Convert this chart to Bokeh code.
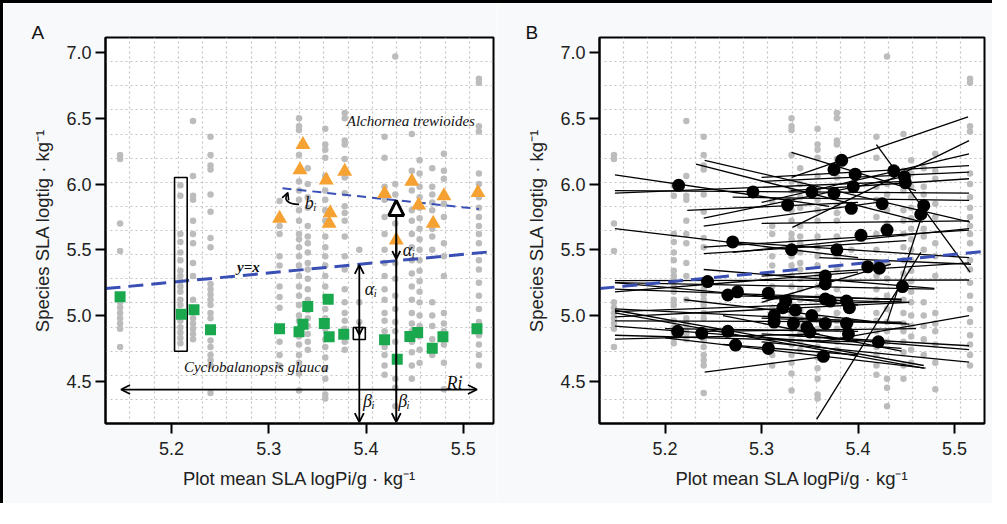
from bokeh.plotting import figure
from bokeh.layouts import row
from bokeh.models import (Range1d, FixedTicker, PrintfTickFormatter, Arrow, OpenHead,
                          NormalHead)
from bokeh.core.properties import value
from bokeh.embed import file_html
from bokeh.resources import INLINE

# ---------------- data ----------------
gray_cols_x = [5.147, 5.209, 5.222, 5.240, 5.311, 5.331, 5.340, 5.358, 5.378,
               5.393, 5.419, 5.430, 5.447, 5.455, 5.468, 5.480, 5.516]
gray_cols_y = [
    [6.22, 6.19, 5.70, 5.49, 5.10, 5.06, 5.02, 4.98, 4.94, 4.90, 4.76],
    [5.99, 5.91, 5.62, 5.56, 5.48, 5.42, 5.34, 5.30, 5.26, 5.22, 5.18, 5.12, 5.08, 4.96, 4.91, 4.87, 4.83, 4.79],
    [6.48, 6.06, 5.91, 5.88, 5.72, 5.62, 5.55, 5.40, 5.30, 5.12, 4.98, 4.94, 4.90, 4.86, 4.82],
    [6.36, 6.22, 6.14, 6.11, 5.92, 5.79, 5.59, 5.52, 5.24, 5.20, 5.16, 5.12, 5.08, 5.02, 4.98, 4.81, 4.76, 4.70, 4.66, 4.62, 4.41],
    [5.87, 5.68, 5.62, 5.45, 5.38, 5.22, 5.14, 5.06, 4.80, 4.70, 4.62],
    [6.50, 6.44, 6.41, 6.22, 6.02, 5.95, 5.88, 5.80, 5.72, 5.62, 5.58, 5.52, 5.45, 5.38, 5.30, 5.22, 5.15, 5.08, 5.00, 4.96, 4.90, 4.84, 4.78, 4.70, 4.64, 4.56, 4.43],
    [6.12, 6.00, 5.90, 5.82, 5.68, 5.60, 5.55, 5.48, 5.40, 5.35, 5.28, 5.20, 5.12, 5.04, 4.98, 4.92, 4.86, 4.80, 4.74],
    [6.42, 6.30, 6.26, 6.20, 6.06, 5.95, 5.88, 5.80, 5.72, 5.60, 5.52, 5.45, 5.38, 5.30, 5.22, 5.14, 5.05, 4.98, 4.90, 4.82, 4.76, 4.68, 4.60, 4.52, 4.40, 4.37],
    [6.54, 6.50, 6.33, 6.30, 6.19, 6.05, 5.93, 5.83, 5.78, 5.72, 5.60, 5.45, 5.35, 5.20, 5.10, 5.02, 4.96, 4.90, 4.80, 4.74],
    [5.50, 5.10, 4.95],
    [6.36, 6.20, 5.98, 5.88, 5.75, 5.62, 5.50, 5.40, 5.30, 5.20, 5.12, 5.02, 4.96, 4.88, 4.76, 4.70, 4.62, 4.55],
    [6.97, 6.00, 5.92, 5.80, 5.70, 5.40, 5.28, 5.15, 5.05, 4.95, 4.88, 4.80, 4.52, 4.45, 4.31],
    [6.38, 6.10, 5.95, 5.80, 5.72, 5.62, 5.52, 5.42, 5.32, 5.22, 5.12, 5.02, 4.94, 4.88, 4.80, 4.72, 4.62, 4.52],
    [6.18, 6.08, 5.98, 5.90, 5.82, 5.74, 5.66, 5.58, 5.50, 5.42, 5.34, 5.26, 5.18, 5.10, 5.00, 4.92, 4.84, 4.74, 4.64],
    [6.12, 5.98, 5.92, 5.86, 5.80, 5.66, 5.60, 5.50, 5.10, 5.00, 4.92, 4.82, 4.70],
    [6.23, 6.10, 6.04, 5.85, 5.75, 5.55, 5.45, 5.30, 5.02, 4.94, 4.88, 4.78, 4.64, 4.44],
    [6.80, 6.77, 6.44, 6.40, 6.08, 6.00, 5.90, 5.82, 5.75, 5.68, 5.62, 5.55, 5.42, 5.35, 5.25, 5.15, 5.05, 4.95, 4.85, 4.78, 4.70, 4.62],
]

tri_x = [5.311, 5.335, 5.332, 5.359, 5.363, 5.362, 5.378, 5.419, 5.447, 5.454, 5.469, 5.480, 5.515, 5.431]
tri_y = [5.738, 6.300, 6.108, 6.029, 5.780, 5.700, 6.095, 5.926, 6.020, 5.840, 5.700, 5.910, 5.935, 5.573]

sq_x = [5.147, 5.210, 5.223, 5.240, 5.311, 5.331, 5.335, 5.340, 5.357, 5.361, 5.362, 5.377,
        5.419, 5.432, 5.445, 5.453, 5.468, 5.479, 5.514]
sq_y = [5.142, 5.010, 5.043, 4.891, 4.900, 4.876, 4.934, 5.068, 4.939, 5.124, 4.838, 4.858,
        4.815, 4.668, 4.840, 4.870, 4.751, 4.838, 4.900]

focal_sq_x = [5.393]
focal_sq_y = [4.863]

# dashed y=x reference line (as drawn)
yx_x = [5.132, 5.531]
yx_y = [5.205, 5.487]

# species regression (Alchornea trewioides)
sp_x = [5.314, 5.516]
sp_y = [5.968, 5.810]

# box around Cyclobalanopsis glauca column
box_x = [5.203, 5.216]
box_y = [4.728, 6.050]

# panel B species means
dot_x = [5.214, 5.291, 5.327, 5.352, 5.375, 5.375, 5.383, 5.397, 5.395, 5.393, 5.425,
         5.437, 5.448, 5.449, 5.468, 5.465, 5.270, 5.403, 5.430, 5.331, 5.378,
         5.244, 5.366, 5.366, 5.410, 5.422, 5.446, 5.265, 5.275, 5.307, 5.325, 5.322,
         5.335, 5.352, 5.313, 5.313, 5.333, 5.347, 5.350, 5.366, 5.366, 5.371, 5.388,
         5.391, 5.388, 5.390, 5.213, 5.238, 5.265, 5.273, 5.307, 5.364, 5.421]
dot_y = [5.99, 5.94, 5.84, 5.94, 5.93, 6.11, 6.18, 6.075, 5.98, 5.815, 5.85,
         6.10, 6.055, 6.01, 5.835, 5.77, 5.56, 5.61, 5.65, 5.50, 5.50,
         5.258, 5.30, 5.24, 5.37, 5.36, 5.22, 5.156, 5.18, 5.17, 5.11, 5.06,
         5.04, 5.00, 5.00, 4.95, 4.94, 4.91, 4.875, 4.94, 5.125, 5.11, 5.11,
         5.06, 4.94, 4.86, 4.88, 4.865, 4.88, 4.775, 4.75, 4.69, 4.80]

# panel B species regression segments
seg_x0 = [5.148, 5.148, 5.148, 5.232, 5.241, 5.331, 5.419, 5.331, 5.332, 5.240, 5.223, 5.240,
          5.300, 5.300, 5.300, 5.330, 5.270, 5.300, 5.148, 5.270, 5.240, 5.240, 5.270, 5.360, 5.430,
          5.148, 5.148, 5.148, 5.148, 5.148, 5.148, 5.148, 5.148, 5.148, 5.148, 5.148, 5.148,
          5.148, 5.148, 5.241, 5.360, 5.331, 5.300, 5.240, 5.300, 5.270, 5.300, 5.260, 5.300,
          5.357, 5.200, 5.220, 5.300, 5.300, 5.200, 5.260, 5.240]
seg_y0 = [6.07, 5.95, 5.93, 6.151, 6.18, 6.05, 6.30, 6.24, 5.67, 5.74, 5.80, 5.68,
          6.05, 6.02, 5.86, 5.95, 5.90, 5.70, 5.66, 5.48, 5.52, 5.47, 5.56, 5.44, 4.95,
          5.265, 5.25, 5.25, 5.18, 5.20, 5.05, 5.04, 5.02, 5.03, 4.99, 4.96, 4.92,
          4.85, 4.82, 4.57, 4.80, 4.85, 4.80, 5.35, 5.13, 5.15, 4.98, 5.00, 5.10,
          4.21, 4.90, 5.12, 5.30, 4.86, 4.83, 4.78, 4.88]
seg_x1 = [5.370, 5.515, 5.450, 5.467, 5.516, 5.514, 5.516, 5.460, 5.515, 5.450, 5.400, 5.420,
          5.515, 5.515, 5.515, 5.515, 5.515, 5.515, 5.400, 5.515, 5.515, 5.450, 5.515, 5.517, 5.468,
          5.515, 5.479, 5.400, 5.400, 5.445, 5.450, 5.468, 5.468, 5.445, 5.453, 5.445, 5.445,
          5.400, 5.360, 5.366, 5.515, 5.515, 5.515, 5.479, 5.453, 5.445, 5.453, 5.445, 5.434,
          5.465, 5.400, 5.420, 5.515, 5.515, 5.470, 5.400, 5.460]
seg_y1 = [5.83, 5.93, 6.02, 5.71, 5.71, 6.51, 5.33, 5.95, 6.33, 6.06, 5.86, 5.86,
          6.14, 6.09, 6.23, 6.04, 5.875, 5.72, 5.44, 5.66, 5.65, 5.57, 5.44, 5.39, 5.80,
          5.27, 5.20, 5.08, 5.33, 5.12, 4.94, 4.62, 4.60, 5.11, 5.10, 4.95, 4.75,
          4.80, 4.86, 4.69, 5.00, 4.74, 4.645, 5.207, 5.10, 5.125, 4.935, 4.73, 5.39,
          5.48, 4.88, 4.95, 5.40, 4.77, 4.60, 4.70, 4.90]

y_ticks = [4.5, 5.0, 5.5, 6.0, 6.5, 7.0]
x_ticks = [5.2, 5.3, 5.4, 5.5]

X_RANGE = (5.132, 5.531)
Y_RANGE = (4.179, 7.114)

GRAY = "#bcbcbc"
BLUE = "#3a4fb4"
FAINT = "#f7f9fb"


def base_fig(width, left, right, letter):
    p = figure(width=width, height=500, x_range=Range1d(*X_RANGE), y_range=Range1d(*Y_RANGE),
               output_backend="svg", toolbar_location=None,
               min_border_left=left, min_border_right=right, min_border_top=34, min_border_bottom=80)
    p.border_fill_color = FAINT
    p.background_fill_color = "white"
    p.outline_line_color = "black"
    p.outline_line_width = 2
    p.title.text = letter
    p.title.align = "left"
    p.title.offset = -74
    p.title.standoff = -11
    p.title.text_font = "Liberation Sans"
    p.title.text_font_size = "19px"
    p.title.text_font_style = "normal"
    p.title.text_color = "#111111"
    x0, x1 = X_RANGE
    y0, y1 = Y_RANGE
    p.xgrid.ticker = FixedTicker(ticks=[x0 + k * (x1 - x0) / 16 for k in range(1, 16)])
    p.ygrid.ticker = FixedTicker(ticks=[y0 + k * (y1 - y0) / 16 for k in range(1, 16)])
    for g in (p.xgrid, p.ygrid):
        g.grid_line_color = "#c4c4c4"
        g.grid_line_dash = "2 3"
        g.grid_line_width = 1.2
    p.xaxis.ticker = FixedTicker(ticks=x_ticks)
    p.yaxis.ticker = FixedTicker(ticks=y_ticks)
    for ax in (p.xaxis, p.yaxis):
        ax[0].formatter = PrintfTickFormatter(format="%.1f")
        ax.major_tick_out = 10
        ax.major_tick_in = 0
        ax.minor_tick_out = 0
        ax.minor_tick_in = 0
        ax.major_tick_line_width = 2
        ax.axis_line_width = 2
        ax.major_label_text_font = "Liberation Sans"
        ax.major_label_text_font_size = "18px"
        ax.major_label_text_color = "#222222"
        ax.axis_label_text_font = "Liberation Sans"
        ax.axis_label_text_font_size = "18.5px"
        ax.axis_label_text_font_style = "normal"
        ax.axis_label_text_color = "#222222"
    p.xaxis.major_label_standoff = 8
    p.yaxis.major_label_standoff = 4
    p.xaxis.axis_label_standoff = 10
    p.yaxis.axis_label_standoff = 10
    p.xaxis.axis_label = "Plot mean SLA logPi/g · kg⁻¹"
    p.yaxis.axis_label = "Species SLA logtig · kg⁻¹"
    gx, gy = [], []
    for cx, ys in zip(gray_cols_x, gray_cols_y):
        gx += [cx] * len(ys)
        gy += ys
    p.scatter(gx, gy, size=6.5, color=GRAY, line_color=None)
    return p


# ---------------- panel A ----------------
pa = base_fig(494, 102, 4, "A")
pa.line(yx_x, yx_y, line_color=BLUE, line_width=3, line_dash="15 8")
pa.line(sp_x, sp_y, line_color=BLUE, line_width=2, line_dash="9 6")
pa.quad(left=[box_x[0]], right=[box_x[1]], bottom=[box_y[0]], top=[box_y[1]],
        fill_color=None, line_color="black", line_width=1.6)
pa.scatter(tri_x, tri_y, marker="triangle", size=15, color="#f6a233", line_color=None)
pa.scatter(sq_x, sq_y, marker="square", size=11, color="#1aa84f", line_color=None)
pa.scatter(focal_sq_x, focal_sq_y, marker="square", size=12, fill_color=None,
           line_color="black", line_width=1.6)

# arrows
ah = dict(size=9, line_width=1.8)
pa.add_layout(Arrow(x_start=focal_sq_x[0], y_start=4.19, x_end=focal_sq_x[0], y_end=5.385,
                    start=OpenHead(**ah), end=OpenHead(**ah), line_width=1.8))
pa.add_layout(Arrow(x_start=focal_sq_x[0], y_start=4.95, x_end=focal_sq_x[0], y_end=focal_sq_y[0] - 0.01,
                    end=OpenHead(size=8, line_width=1.8), line_width=1.8))
pa.add_layout(Arrow(x_start=5.431, y_start=4.19, x_end=5.431, y_end=5.875,
                    start=OpenHead(**ah),
                    end=NormalHead(size=15, fill_color="white", line_color="black", line_width=3),
                    line_width=2))
pa.add_layout(Arrow(x_start=5.431, y_start=5.55, x_end=5.431, y_end=5.43,
                    end=OpenHead(size=8, line_width=1.8), line_width=2))
pa.add_layout(Arrow(x_start=5.148, y_start=4.437, x_end=5.514, y_end=4.437,
                    start=OpenHead(**ah), end=OpenHead(**ah), line_width=1.8))
pa.bezier(x0=[5.331], y0=[5.845], x1=[5.3185], y1=[5.915], cx0=[5.318], cy0=[5.848],
          cx1=[5.316], cy1=[5.885], line_color="black", line_width=1.6)
pa.add_layout(Arrow(x_start=5.318, y_start=5.905, x_end=5.3195, y_end=5.935,
                    end=OpenHead(size=7, line_width=1.6), line_width=1.6))

serif = value("Liberation Serif")
pa.text(x=[5.446, 5.287], y=[6.48, 4.606], text=["Alchornea trewioides", "Cyclobalanopsis glauca"],
        text_font=serif, text_font_style="italic", text_font_size="15px",
        text_align="center", text_baseline="middle", text_color="#111111")
pa.text(x=[5.279], y=[5.37], text=["y=x"], text_font=serif, text_font_style="bold italic",
        text_font_size="15px", text_align="center", text_baseline="middle", text_color="#111111")
pa.text(x=[5.343, 5.405, 5.444, 5.403, 5.439, 5.491],
        y=[5.855, 5.20, 5.495, 4.353, 4.353, 4.485],
        text=["bᵢ", "αᵢ", "αᵢ", "βᵢ", "βᵢ", "Ri"],
        text_font=serif, text_font_style="italic", text_font_size="18px",
        text_align="center", text_baseline="middle", text_color="#111111")

# ---------------- panel B ----------------
pb = base_fig(495, 102, 8, "B")
pb.segment(x0=seg_x0, y0=seg_y0, x1=seg_x1, y1=seg_y1, line_color="black", line_width=1.3)
pb.line(yx_x, yx_y, line_color=BLUE, line_width=3, line_dash="15 8")
pb.scatter(dot_x, dot_y, size=13, color="black", line_color=None)

layout = row(pa, pb, styles={"border-top": "3px solid black", "border-left": "3px solid black"})

open("out.html", "w").write(file_html(layout, INLINE))
